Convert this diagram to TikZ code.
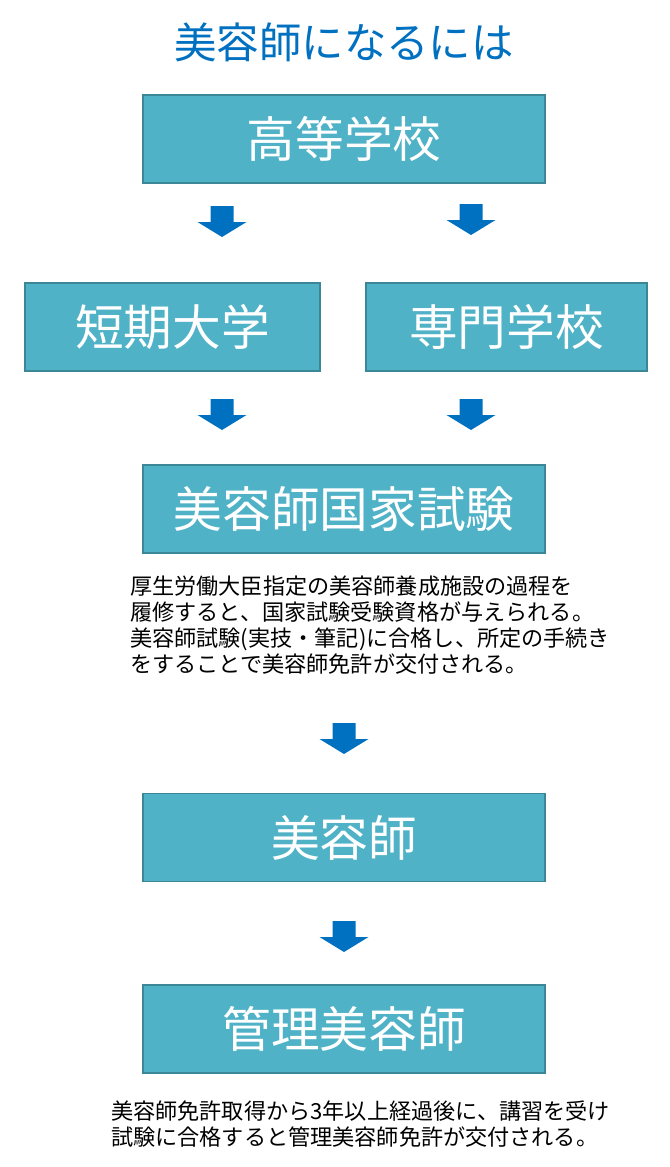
\documentclass[tikz,border=0pt]{standalone}
\usepackage{fontspec}
\setmainfont{Noto Sans CJK JP}
\definecolor{boxfill}{HTML}{4FB2C7}
\definecolor{boxline}{HTML}{3B8798}
\definecolor{arrowblue}{HTML}{0070C0}
\definecolor{titleblue}{HTML}{0070C0}
\tikzset{
  stagebox/.style={draw=boxline, line width=0.9pt, fill=boxfill, text=white,
    font=\fontsize{36.5}{40}\selectfont, inner sep=0pt, minimum height=66pt},
  note/.style={align=left, inner sep=0pt, anchor=west, text=black,
    font=\fontsize{16.6}{19.6}\selectfont},
  pics/blockarrow/.style={code={
    \fill[arrowblue] (-11.5,0) -- (11.5,0) -- (11.5,16) -- (24.5,16) -- (0,31)
      -- (-24.5,16) -- (-11.5,16) -- cycle;
    \coordinate (-tip) at (0,31);
  }}
}
\begin{document}
\begin{tikzpicture}[x=0.75pt,y=-0.75pt]
\useasboundingbox (0,0) rectangle (669,1167);
\node[text=titleblue, font=\fontsize{31.8}{36}\selectfont, inner sep=0pt] (title) at (344,42) {美容師になるには};

\node[stagebox, minimum width=301.5pt] (koko) at (344,139) {高等学校};
\node[stagebox, minimum width=221.25pt] (tanki) at (172.5,327) {短期大学};
\node[stagebox, minimum width=210.75pt] (senmon) at (506.5,327) {専門学校};
\node[stagebox, minimum width=301.5pt] (kokka) at (344,509) {美容師国家試験};
\node[stagebox, minimum width=301.5pt] (biyoshi) at (344,837.5) {美容師};
\node[stagebox, minimum width=301.5pt] (kanri) at (344,1029) {管理美容師};

\pic (a1) at (222,206) {blockarrow};
\pic (a2) at (471,204) {blockarrow};
\pic (a3) at (222,399) {blockarrow};
\pic (a4) at (471,399) {blockarrow};
\pic (a5) at (344,723) {blockarrow};
\pic (a6) at (344,921) {blockarrow};

\node[note] (note1) at (130,625) {厚生労働大臣指定の美容師養成施設の過程を\\履修すると、国家試験受験資格が与えられる。\\美容師試験(実技・筆記)に合格し、所定の手続き\\をすることで美容師免許が交付される。};
\node[note] (note2) at (111,1124) {美容師免許取得から3年以上経過後に、講習を受け\\試験に合格すると管理美容師免許が交付される。};
\end{tikzpicture}
\end{document}
